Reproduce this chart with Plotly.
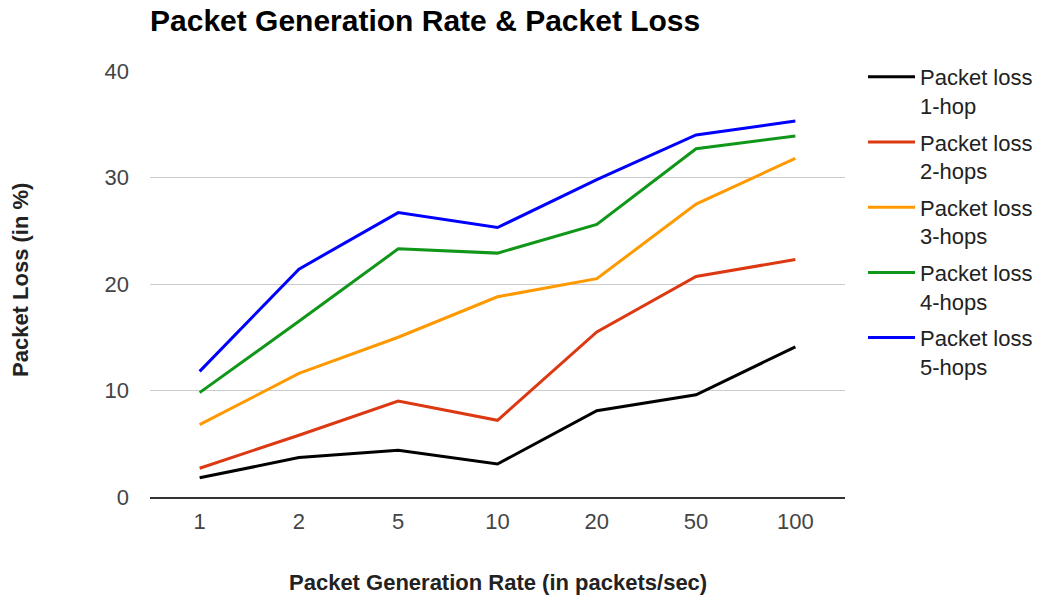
import plotly.graph_objects as go

# Packet generation rates (packets/sec) used as categories on the x axis
rates = ["1", "2", "5", "10", "20", "50", "100"]

# Packet loss (%) per hop count
loss_1hop = [1.8, 3.7, 4.4, 3.1, 8.1, 9.6, 14.1]
loss_2hops = [2.7, 5.8, 9.0, 7.2, 15.5, 20.7, 22.3]
loss_3hops = [6.8, 11.6, 15.0, 18.8, 20.5, 27.5, 31.8]
loss_4hops = [9.8, 16.5, 23.3, 22.9, 25.6, 32.7, 33.9]
loss_5hops = [11.8, 21.4, 26.7, 25.3, 29.8, 34.0, 35.3]

series_names = [
    "Packet loss<br>1-hop",
    "Packet loss<br>2-hops",
    "Packet loss<br>3-hops",
    "Packet loss<br>4-hops",
    "Packet loss<br>5-hops",
]
series_values = [loss_1hop, loss_2hops, loss_3hops, loss_4hops, loss_5hops]
series_colors = ["#000000", "#dc3912", "#ff9900", "#109618", "#0000ff"]

FONT = "Liberation Sans, Arial, sans-serif"

fig = go.Figure()
for name, vals, color in zip(series_names, series_values, series_colors):
    fig.add_trace(go.Scatter(
        x=rates, y=vals, name=name, mode="lines",
        line=dict(color=color, width=3),
        legendgroup=name,
    ))

fig.update_layout(
    width=1039, height=596,
    margin=dict(l=150, r=194, t=71, b=99),
    paper_bgcolor="white", plot_bgcolor="white",
    font=dict(family=FONT, size=22, color="#444"),
    title=dict(
        text="<b>Packet Generation Rate &amp; Packet Loss</b>",
        font=dict(family=FONT, size=30, color="#000"),
        xref="paper", x=0, xanchor="left",
        yref="container", y=1 - 20 / 596, yanchor="middle",
    ),
    xaxis=dict(
        type="category", range=[-0.5, 6.5],
        showgrid=False, zeroline=False,
        showline=True, linecolor="#333", linewidth=1.5,
        ticks="", ticklabelstandoff=4,
        tickfont=dict(family=FONT, size=22, color="#444"),
    ),
    yaxis=dict(
        range=[0, 40], dtick=10,
        showgrid=True, gridcolor="#cccccc", gridwidth=1,
        zeroline=False, showline=False,
        ticks="", ticklabelstandoff=20,
        tickfont=dict(family=FONT, size=22, color="#444"),
    ),
    legend=dict(
        xref="container", x=863 / 1039, xanchor="left",
        yref="container", y=1 - 56 / 596, yanchor="top",
        font=dict(family=FONT, size=22, color="#222"),
        valign="top", traceorder="grouped", tracegroupgap=5,
        itemwidth=47, maxheight=1.0,
        bgcolor="rgba(0,0,0,0)",
    ),
    showlegend=True,
)

fig.add_annotation(
    text="<b>Packet Generation Rate (in packets/sec)</b>",
    xref="paper", yref="paper", x=0.5, y=-85 / 426,
    xanchor="center", yanchor="middle", showarrow=False,
    font=dict(family=FONT, size=22, color="#222"),
)
fig.add_annotation(
    text="<b>Packet Loss (in %)</b>",
    xref="paper", yref="paper", x=(20 - 150) / 695, y=(497 - 280) / 426,
    xanchor="center", yanchor="middle", showarrow=False, textangle=-90,
    font=dict(family=FONT, size=22, color="#222"),
)

fig.write_html("out.html")
